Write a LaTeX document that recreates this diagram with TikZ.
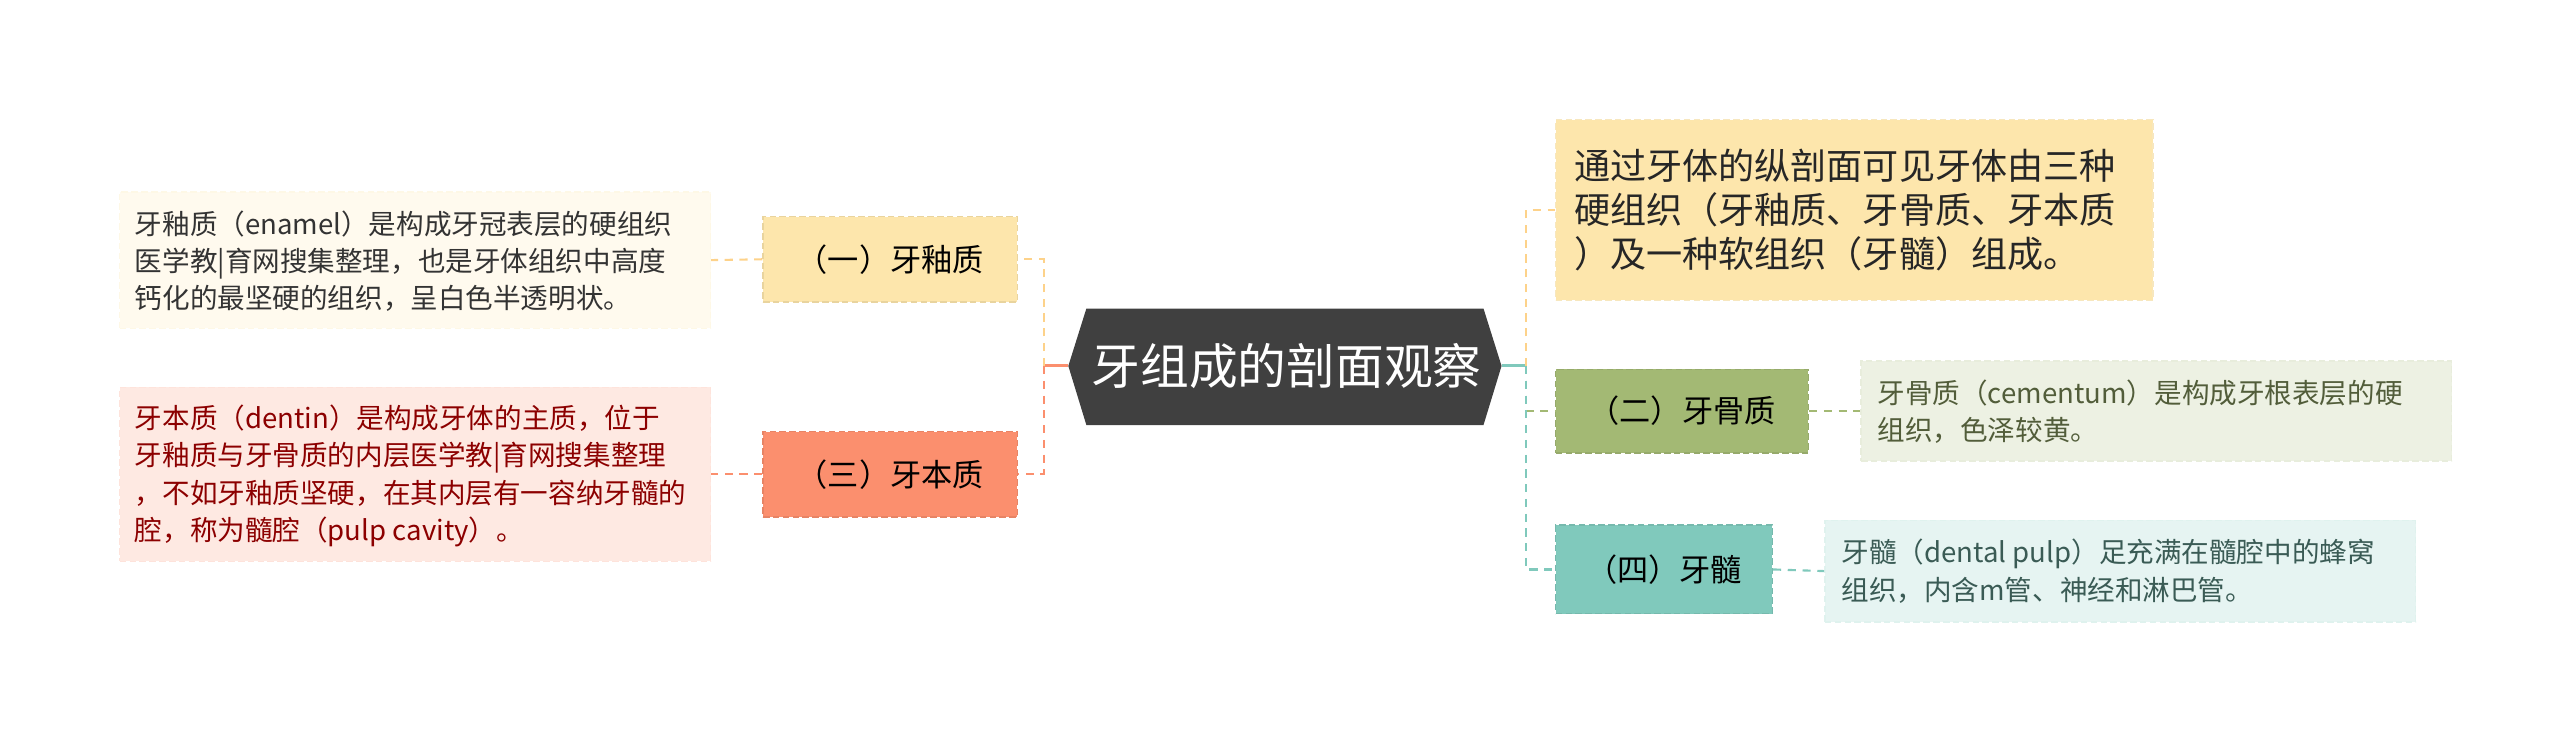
\documentclass[tikz,border=0pt]{standalone}
\usepackage{fontspec}
\setmainfont{Noto Sans CJK SC}
\begin{document}
\begin{tikzpicture}[x=1pt,y=-1pt,
  box/.style={inner sep=0pt, dash pattern=on 4pt off 2pt, line width=0.8pt},
  txt/.style={align=left, anchor=west, inner sep=0pt},
  con/.style={line width=1.3pt, dash pattern=on 5pt off 4pt}]
\useasboundingbox (0,0) rectangle (1560,451);
\definecolor{cY}{HTML}{FDE6AC}\definecolor{cYb}{HTML}{F5E7C2}
\definecolor{cO}{HTML}{FB8F6E}\definecolor{cG}{HTML}{A3B974}
\definecolor{cT}{HTML}{80C9BC}
\def\desc{\fontsize{16.8}{22.7}\selectfont}
% center
\fill[black!75] (651,223) -- (662,188) -- (904,188) -- (915,223) -- (904,259) -- (662,259) -- cycle;
\node[text=white, font=\fontsize{29.7}{31}\selectfont] (ct) at (784,223) {牙组成的剖面观察};
\coordinate (cl) at (651,223); \coordinate (cr) at (915,223);
% subtopics
\node[box, fill=cY, draw=cY!92!black, minimum width=155pt, minimum height=52pt, font=\fontsize{19}{22}\selectfont] (s1) at (542.5,158) {（一）牙釉质};
\node[box, fill=cO, draw=cO!92!black, minimum width=155pt, minimum height=52pt, font=\fontsize{19}{22}\selectfont] (s3) at (542.5,289) {（三）牙本质};
\node[box, fill=cG, draw=cG!92!black, minimum width=154pt, minimum height=51pt, font=\fontsize{19}{22}\selectfont] (s2) at (1025,250.5) {（二）牙骨质};
\node[box, fill=cT, draw=cT!92!black, minimum width=132pt, minimum height=54pt, font=\fontsize{19}{22}\selectfont] (s4) at (1014,347) {（四）牙髓};
% descriptions
\node[box, fill=cY!20, draw=cY!30, minimum width=360pt, minimum height=83pt] (d1) at (253,158.5) {};
\node[txt, text=black!80, font=\desc] at (82,159) {牙釉质（enamel）是构成牙冠表层的硬组织\\医学教|育网搜集整理，也是牙体组织中高度\\钙化的最坚硬的组织，呈白色半透明状。};
\node[box, fill=cO!20, draw=cO!25, minimum width=360pt, minimum height=106pt] (d3) at (253,289) {};
\node[txt, text=red!55!black, font=\desc] at (82,290) {牙本质（dentin）是构成牙体的主质，位于\\牙釉质与牙骨质的内层医学教|育网搜集整理\\，不如牙釉质坚硬，在其内层有一容纳牙髓的\\腔，称为髓腔（pulp cavity）。};
\node[box, fill=cY, draw=cYb!80!cY, minimum width=364pt, minimum height=110pt] (d0) at (1130,128) {};
\node[txt, text=black!85, font=\fontsize{22}{27}\selectfont] at (959,128) {通过牙体的纵剖面可见牙体由三种\\硬组织（牙釉质、牙骨质、牙本质\\）及一种软组织（牙髓）组成。};
\node[box, fill=cG!20, draw=cG!25, minimum width=360pt, minimum height=61pt] (d2) at (1314,250.5) {};
\node[txt, text=cG!50!black, font=\desc] at (1144,251) {牙骨质（cementum）是构成牙根表层的硬\\组织，色泽较黄。};
\node[box, fill=cT!20, draw=cT!25, minimum width=360pt, minimum height=62pt] (d4) at (1292,348) {};
\node[txt, text=cT!45!black, font=\desc] at (1122,348) {牙髓（dental pulp）足充满在髓腔中的蜂窝\\组织，内含m管、神经和淋巴管。};
% connectors
\coordinate (jl) at (636,223); \coordinate (jr) at (930,223);
\draw[cO, line width=1.8pt] (cl) -- (jl);
\draw[cY!80!orange, con] (jl) |- (s1.east);
\draw[cO, con] (jl) |- (s3.east);
\draw[cY!80!orange, con] (s1.west) -- (d1.east);
\draw[cO, con] (s3.west) -- (d3.east);
\draw[cT, line width=1.8pt] (cr) -- (jr);
\draw[cY!80!orange, con] (jr) |- (d0.west);
\draw[cG, con] (jr) |- (s2.west);
\draw[cT, con] (jr) |- (s4.west);
\draw[cG, con] (s2.east) -- (d2.west);
\draw[cT, con] (s4.east) -- (d4.west);
\end{tikzpicture}
\end{document}
